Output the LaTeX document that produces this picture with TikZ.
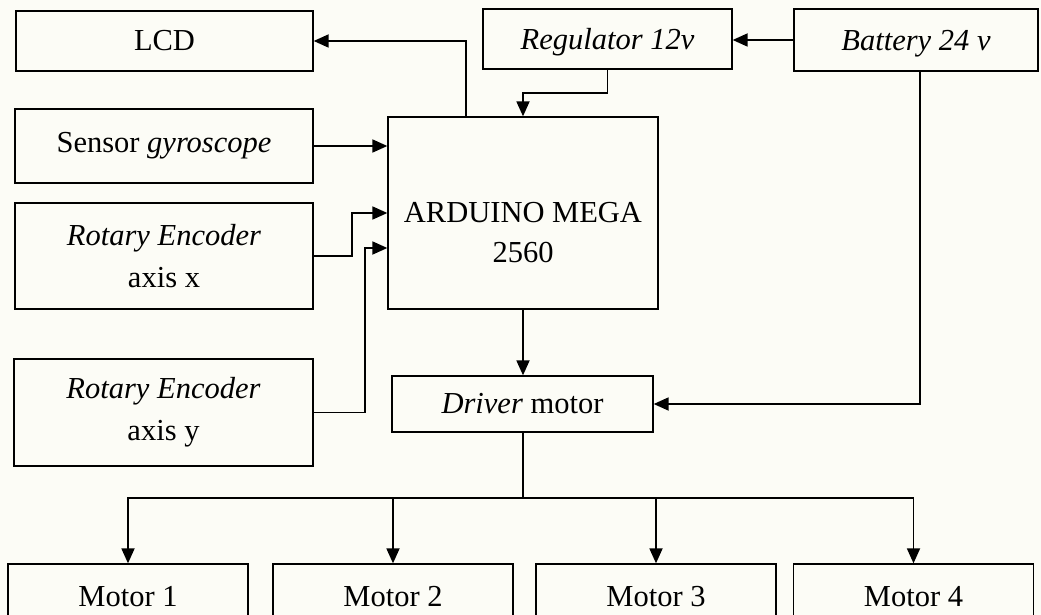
\documentclass[tikz,border=0pt]{standalone}
\usepackage{fontspec}
\setmainfont{Liberation Serif}
\usetikzlibrary{arrows.meta}
\definecolor{bg}{RGB}{252,252,246}
\tikzset{
  box/.style={draw, line width=1.3pt, inner sep=0pt, align=center, font=\fontsize{30.5}{42}\selectfont},
  arr/.style={line width=1.8pt, -{Triangle[length=15pt,width=13pt]}},
  ln/.style={line width=1.8pt},
  motorbox/.style={box, minimum width=240pt, minimum height=66pt},
  lowtext/.style={text height=24pt, text depth=2pt}
}
\begin{document}
\begin{tikzpicture}[x=1pt,y=-1pt]
\fill[bg] (0,0) rectangle (1041,615);
\clip (0,0) rectangle (1041,615);
\node[box, minimum width=297pt, minimum height=60pt] (lcd) at (164.5,41) {LCD};
\node[box, lowtext, minimum width=249pt, minimum height=60pt] (reg) at (607.5,39) {\textit{Regulator 12v}};
\node[box, lowtext, minimum width=244pt, minimum height=62pt] (bat) at (916,40) {\textit{Battery 24 v}};
\node[box, minimum width=298pt, minimum height=74pt] (gyro) at (164,146) {Sensor \textit{gyroscope}};
\node[box, minimum width=298pt, minimum height=106pt] (encx) at (164,256) {\textit{Rotary Encoder}\\axis x};
\node[box, minimum width=299pt, minimum height=107pt] (ency) at (163.5,412.5) {\textit{Rotary Encoder}\\axis y};
\node[box, minimum width=270pt, minimum height=192pt] (ard) at (523,213) {\rule{0pt}{60pt}ARDUINO MEGA\\[-2pt]2560};
\node[box, minimum width=261pt, minimum height=56pt] (drv) at (522.5,404) {\textit{Driver} motor};
\node[motorbox] (m1) at (128,597) {Motor 1};
\node[motorbox] (m2) at (393,597) {Motor 2};
\node[motorbox] (m3) at (656,597) {Motor 3};
\node[motorbox] (m4) at (913.5,597) {Motor 4};
\coordinate (bus) at (523,498);
% connectors
\draw[arr] ([xshift=79pt]ard.north west) |- (lcd.east);
\draw[arr] (bat.west) -- (bat.west -| reg.east);
\draw[arr] (reg.south) -- ++(0,23) -| (ard.north);
\draw[arr] (gyro.east) -- (gyro.east -| ard.west);
\draw[arr] (encx.east) -- ++(38,0) |- (ard.west);
\draw[arr] (ency.east) -- ++(51,0) |- ([yshift=-35pt]ard.west);
\draw[arr] (ard.south) -- (ard.south |- drv.north);
\draw[arr] ([xshift=4pt]bat.south) |- (drv.east);
\draw[ln] (ard.south |- drv.south) -- (bus);
\draw[arr] (bus) -| (m1.north);
\draw[arr] (bus) -| (m2.north);
\draw[arr] (bus) -| (m3.north);
\draw[arr] (bus) -| (m4.north);
\end{tikzpicture}
\end{document}
